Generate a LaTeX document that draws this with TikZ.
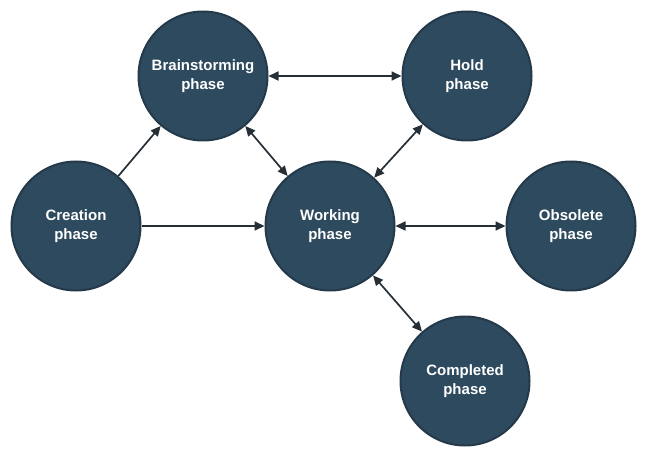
\documentclass[tikz,border=0pt]{standalone}
\usepackage{fontspec}
\setmainfont{Liberation Sans}
\usetikzlibrary{arrows.meta}
\definecolor{phasefill}{HTML}{2E4A5E}
\definecolor{phaseedge}{HTML}{243A4A}
\definecolor{linkcol}{HTML}{262E36}
\begin{document}
\begin{tikzpicture}[x=1pt,y=-1pt,
  phase/.style={circle,fill=phasefill,draw=phaseedge,line width=2pt,minimum size=129pt,inner sep=0pt,
    text=white,font=\bfseries\fontsize{15}{19}\selectfont,align=center},
  link/.style={draw=linkcol,line width=1.7pt,-{Triangle[length=10pt,width=9pt]}},
  dlink/.style={draw=linkcol,line width=1.7pt,{Triangle[length=10pt,width=9pt]}-{Triangle[length=10pt,width=9pt]}}]
\useasboundingbox (0,0) rectangle (655,454);
\node[phase] (brain) at (203,76) {Brainstorming\\phase};
\node[phase] (hold) at (467,76) {Hold\\phase};
\node[phase] (create) at (76,226) {Creation\\phase};
\node[phase] (work) at (330,226) {Working\\phase};
\node[phase] (obs) at (571,226) {Obsolete\\phase};
\node[phase] (comp) at (465,381) {Completed\\phase};
\draw[link] (create) -- (brain);
\draw[link] (create) -- (work);
\draw[dlink] (brain) -- (hold);
\draw[dlink] (brain) -- (work);
\draw[dlink] (hold) -- (work);
\draw[dlink] (work) -- (obs);
\draw[dlink] (work) -- (comp);
\end{tikzpicture}
\end{document}
